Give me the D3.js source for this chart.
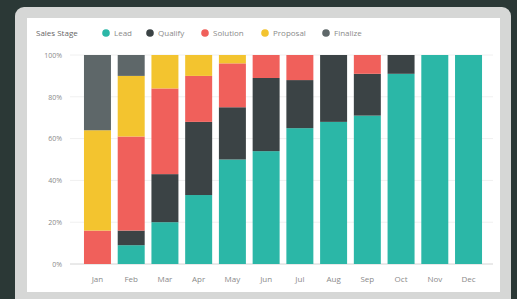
<!DOCTYPE html>
<html>
<head>
<meta charset="utf-8">
<script src="https://cdn.jsdelivr.net/npm/d3@7"></script>
<style>
  html, body { margin: 0; padding: 0; background: #2b3836; }
  svg { display: block; }
  text { font-family: "Open Sans", "Noto Sans", sans-serif; }
</style>
</head>
<body>
<div id="chart"></div>
<script>
// months along x
var months = ["Jan", "Feb", "Mar", "Apr", "May", "Jun", "Jul", "Aug", "Sep", "Oct", "Nov", "Dec"];
var stages = ["Lead", "Qualify", "Solution", "Proposal", "Finalize"];
var stageColors = ["#2bb7a7", "#3b4345", "#f0605b", "#f3c42f", "#5e6769"];

// share of each stage per month, in percent
var lead     = [0,  9,  20, 33, 50, 54, 65, 68, 71, 91, 100, 100];
var qualify  = [0,  7,  23, 35, 25, 35, 23, 32, 20,  9,   0,   0];
var solution = [16, 45, 41, 22, 21, 11, 12,  0,  9,  0,   0,   0];
var proposal = [48, 29, 16, 10,  4,  0,  0,  0,  0,  0,   0,   0];
var finalize = [36, 10,  0,  0,  0,  0,  0,  0,  0,  0,   0,   0];

var yTicks = [0, 20, 40, 60, 80, 100];

var width = 517, height = 299;

var svg = d3.select("#chart").append("svg")
    .attr("width", width)
    .attr("height", height);

// card frame
svg.append("rect")
    .attr("x", 15).attr("y", 7)
    .attr("width", 496).attr("height", 300)
    .attr("rx", 9)
    .attr("fill", "#d6d7d6");
svg.append("rect")
    .attr("x", 27).attr("y", 18)
    .attr("width", 473).attr("height", 274)
    .attr("fill", "#ffffff");

var table = months.map(function(m, i) {
    return { month: m, Lead: lead[i], Qualify: qualify[i], Solution: solution[i], Proposal: proposal[i], Finalize: finalize[i] };
});

var x = d3.scaleBand()
    .domain(months)
    .range([80.6, 485.4])
    .paddingInner(0.2)
    .paddingOuter(0.1);

var y = d3.scaleLinear()
    .domain([0, 100])
    .range([264, 55]);

var color = d3.scaleOrdinal().domain(stages).range(stageColors);

// grid
svg.append("g")
    .selectAll("line")
    .data(yTicks)
    .enter()
    .append("line")
    .attr("x1", 70).attr("x2", 493)
    .attr("y1", function(d) { return y(d); })
    .attr("y2", function(d) { return y(d); })
    .attr("stroke", function(d) { return d === 0 ? "#d4d4d4" : "#f0f0f0"; })
    .attr("stroke-width", 1);

// y axis labels
var yAxis = d3.axisLeft(y)
    .tickValues(yTicks)
    .tickFormat(function(d) { return d + "%"; })
    .tickSize(0)
    .tickPadding(0);

svg.append("g")
    .attr("transform", "translate(62,0)")
    .call(yAxis)
    .call(function(g) { g.select(".domain").remove(); })
    .selectAll("text")
    .attr("fill", "#8a8a8a")
    .style("font-size", "7px");

// x axis labels
var xAxis = d3.axisBottom(x).tickSize(0).tickPadding(0);
svg.append("g")
    .attr("transform", "translate(0,276)")
    .call(xAxis)
    .call(function(g) { g.select(".domain").remove(); })
    .selectAll("text")
    .attr("fill", "#8a8a8a")
    .style("font-size", "8px");

// stacked bars
var series = d3.stack().keys(stages)(table);

svg.append("g")
    .selectAll("g")
    .data(series)
    .enter()
    .append("g")
    .attr("fill", function(d) { return color(d.key); })
    .selectAll("rect")
    .data(function(d) { return d.filter(function(p) { return p[1] > p[0]; }); })
    .enter()
    .append("rect")
    .attr("x", function(d) { return x(d.data.month); })
    .attr("width", x.bandwidth())
    .attr("y", function(d) { return y(d[1]); })
    .attr("height", function(d) { return y(d[0]) - y(d[1]); });

// legend
var legend = svg.append("g").attr("transform", "translate(0,33)");
legend.append("text")
    .attr("x", 36).attr("dy", "0.35em")
    .attr("fill", "#666")
    .style("font-size", "8px")
    .text("Sales Stage");

var legendX = [106, 150, 205, 265, 326];
var items = legend.selectAll("g.item")
    .data(stages)
    .enter()
    .append("g")
    .attr("class", "item")
    .attr("transform", function(d, i) { return "translate(" + legendX[i] + ",0)"; });
items.append("circle")
    .attr("r", 3.8)
    .attr("fill", function(d) { return color(d); });
items.append("text")
    .attr("x", 8).attr("dy", "0.35em")
    .attr("fill", "#8a8a8a")
    .style("font-size", "8px")
    .text(function(d) { return d; });
</script>
</body>
</html>
